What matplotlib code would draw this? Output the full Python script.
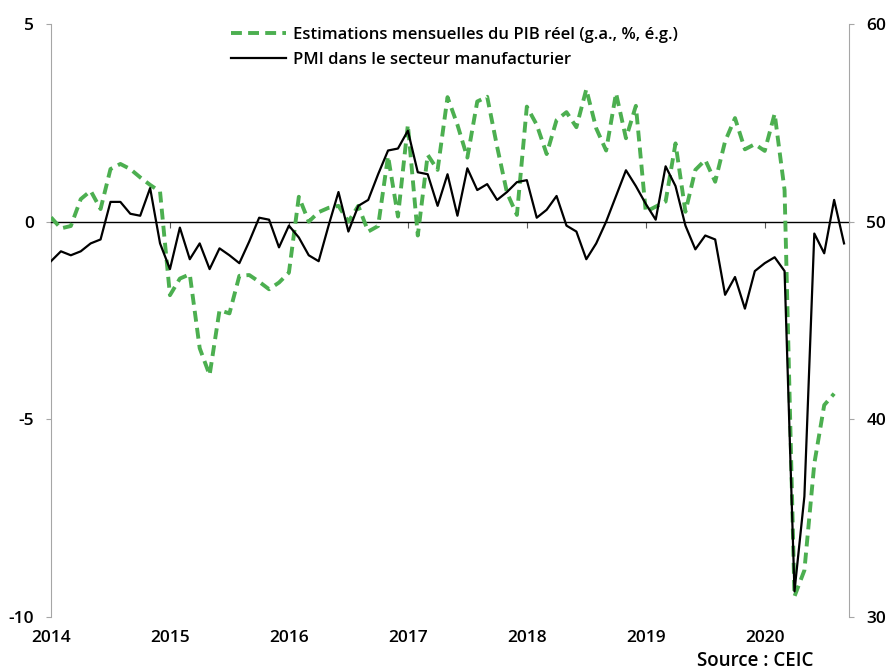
import numpy as np
import matplotlib
matplotlib.use("Agg")
import matplotlib.pyplot as plt

plt.rcParams['font.family'] = ['Open Sans', 'DejaVu Sans']
plt.rcParams['axes.unicode_minus'] = False

# estimations mensuelles du PIB (g.a., %), jan 2014 -> aout 2020
pib = [0.11, -0.17, -0.11, 0.57, 0.78, 0.32, 1.33, 1.46, 1.33, 1.12, 0.93, 0.76,
       -1.86, -1.44, -1.33, -3.2, -3.88, -2.24, -2.32, -1.37, -1.35, -1.52, -1.71, -1.54,
       -1.29, 0.63, 0.0, 0.24, 0.35, 0.4, 0.0, 0.4, -0.25, -0.11, 1.66, 0.13,
       2.45, -0.35, 1.69, 1.31, 3.15, 2.45, 1.62, 3.04, 3.16, 1.9, 0.73, 0.17,
       2.91, 2.45, 1.71, 2.57, 2.77, 2.39, 3.35, 2.36, 1.8, 3.25, 2.11, 2.93,
       0.25, 0.38, 0.51, 1.98, 0.25, 1.31, 1.56, 1.01, 2.03, 2.62, 1.83, 1.96,
       1.79, 2.73, 0.8, -9.48, -8.82, -6.12, -4.64, -4.35]

# PMI manufacturier, jan 2014 -> sept 2020
pmi = [48.0, 48.5, 48.3, 48.5, 48.9, 49.1, 51.0, 51.0, 50.4, 50.3, 51.7, 48.9,
       47.6, 49.7, 48.1, 48.9, 47.6, 48.65, 48.3, 47.9, 49.0, 50.2, 50.1, 48.7,
       49.8, 49.2, 48.3, 48.0, 49.8, 51.5, 49.5, 50.8, 51.1, 52.4, 53.6, 53.7,
       54.6, 52.5, 52.4, 50.8, 52.4, 50.3, 52.7, 51.6, 51.9, 51.1, 51.5, 52.0,
       52.1, 50.2, 50.6, 51.3, 49.8, 49.5, 48.1, 48.9, 50.0, 51.3, 52.6, 51.8,
       50.9, 50.1, 52.8, 51.8, 49.8, 48.6, 49.3, 49.1, 46.3, 47.2, 45.6, 47.5,
       47.9, 48.2, 47.5, 31.3, 36.1, 49.4, 48.4, 51.1, 48.9]

annees = ['2014', '2015', '2016', '2017', '2018', '2019', '2020']

vert = '#4caf50'
gris = '#a6a6a6'

fig = plt.figure(figsize=(8.87, 6.70), dpi=100)
ax = fig.add_axes([51/887, 1 - 617/670, (849 - 51)/887, (617 - 24)/670])
ax2 = ax.twinx()

x_pib = np.arange(len(pib))
x_pmi = np.arange(len(pmi))

l1, = ax.plot(x_pib, pib, color=vert, lw=2.8, dashes=(2.8, 1.6), zorder=3,
              label='Estimations mensuelles du PIB réel (g.a., %, é.g.)')
l2, = ax2.plot(x_pmi, pmi, color='black', lw=1.6, zorder=3,
               label='PMI dans le secteur manufacturier')

ax.set_xlim(0, 80.5)
ax.set_ylim(-10, 5)
ax2.set_ylim(30, 60)
ax.set_yticks([-10, -5, 0, 5])
ax2.set_yticks([30, 40, 50, 60])

# axe des x sur la ligne du zero, libelles en bas
ax.spines['bottom'].set_position(('data', 0))
ax.spines['bottom'].set_linewidth(1.0)
ax.set_xticks(np.arange(len(annees)) * 12)
ax.tick_params(axis='x', direction='out', length=4, color='#595959', labelbottom=False)
sec = ax.secondary_xaxis('bottom')
sec.set_xticks(np.arange(len(annees)) * 12, annees)
sec.tick_params(length=0, pad=9, labelsize=12.5)
sec.spines['bottom'].set_visible(False)
for t in sec.get_xticklabels():
    t.set_fontweight('semibold')

for a in (ax, ax2):
    a.spines['top'].set_visible(False)
for s in ('left', 'right'):
    ax.spines[s].set_color(gris)
    ax2.spines[s].set_color(gris)
ax.spines['right'].set_visible(False)
ax2.spines['left'].set_visible(False)
ax2.spines['bottom'].set_visible(False)

ax.tick_params(axis='y', direction='out', length=3.5, color=gris, labelsize=12.5, pad=9)
ax2.tick_params(axis='y', direction='out', length=3.5, color=gris, labelsize=12.5, pad=9)
for t in ax.get_yticklabels() + ax2.get_yticklabels():
    t.set_fontweight('semibold')

fig.legend(handles=[l1, l2], loc='upper left', bbox_to_anchor=(224/887, 1 - 20/670),
           frameon=False, handlelength=3.3, handletextpad=0.45,
           labelspacing=0.55, borderaxespad=0, prop={'size': 12, 'weight': 'semibold'})

fig.text(813/887, 1 - 661/670, 'Source : CEIC', ha='right', va='center',
         fontsize=13.5, fontweight='semibold')

fig.savefig('out.png', dpi=100)
